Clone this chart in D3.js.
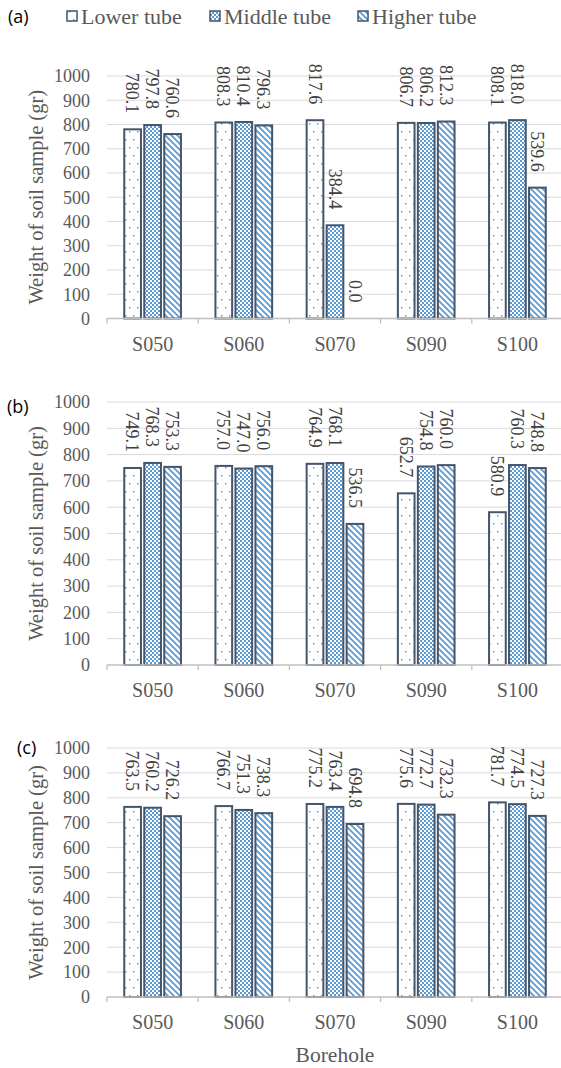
<!DOCTYPE html>
<html><head><meta charset="utf-8">
<script src="https://cdn.jsdelivr.net/npm/d3@7"></script>
<style>
html,body{margin:0;padding:0;background:#fff;}
svg{display:block;}
svg text{font-family:"Liberation Serif","Times New Roman",Tinos,"DejaVu Serif",serif;}
svg text.sans{font-family:"Open Sans","Noto Sans",sans-serif;}
</style>
</head><body>
<script>
const categories = ["S050","S060","S070","S090","S100"];
const series = ["Lower tube","Middle tube","Higher tube"];
const yTicks = [0,100,200,300,400,500,600,700,800,900,1000];
const panelLabels = ["(a)","(b)","(c)"];
const lowerA = [780.1, 808.3, 817.6, 806.7, 808.1];
const middleA = [797.8, 810.4, 384.4, 806.2, 818.0];
const higherA = [760.6, 796.3, 0.0, 812.3, 539.6];
const lowerB = [749.1, 757.0, 764.9, 652.7, 580.9];
const middleB = [768.3, 747.0, 768.1, 754.8, 760.3];
const higherB = [753.3, 756.0, 536.5, 760.0, 748.8];
const lowerC = [763.5, 766.7, 775.2, 775.6, 781.7];
const middleC = [760.2, 751.3, 763.4, 772.7, 774.5];
const higherC = [726.2, 738.3, 694.8, 732.3, 727.3];
const yTitle = "Weight of soil sample (gr)";
const xTitle = "Borehole";

const panelsData = [[lowerA,middleA,higherA],[lowerB,middleB,higherB],[lowerC,middleC,higherC]];
const layout = [
  {top:76, bottom:318.5, lab:{x:8,y:17}},
  {top:402, bottom:665, lab:{x:7,y:407}},
  {top:748, bottom:997, lab:{x:17,y:748}}
];
const W=561,H=1068;
const svg=d3.select("body").append("svg").attr("width",W).attr("height",H);
const defs=svg.append("defs");
const blue="#5B9BD5", border="#44546A", textCol="#595959";

// patterns
const p1=defs.append("pattern").attr("id","pLower").attr("patternUnits","userSpaceOnUse").attr("width",8).attr("height",16);
p1.append("rect").attr("width",8).attr("height",16).attr("fill","#fff");
p1.append("rect").attr("x",1).attr("y",3).attr("width",1.5).attr("height",1.5).attr("fill",blue);
p1.append("rect").attr("x",5).attr("y",11).attr("width",1.5).attr("height",1.5).attr("fill",blue);
const p2=defs.append("pattern").attr("id","pMiddle").attr("patternUnits","userSpaceOnUse").attr("width",4).attr("height",4);
p2.append("rect").attr("width",4).attr("height",4).attr("fill","#fff");
p2.append("rect").attr("x",0).attr("y",0).attr("width",2).attr("height",2).attr("fill",blue);
p2.append("rect").attr("x",2).attr("y",2).attr("width",2).attr("height",2).attr("fill",blue);
const p3=defs.append("pattern").attr("id","pHigher").attr("patternUnits","userSpaceOnUse").attr("width",6).attr("height",6);
p3.append("rect").attr("width",6).attr("height",6).attr("fill","#fff");
p3.append("path").attr("d","M0,0L6,6M-3,3L3,9M3,-3L9,3").attr("stroke",blue).attr("stroke-width",1.8);
const fills=["url(#pLower)","url(#pMiddle)","url(#pHigher)"];

const x0=d3.scaleBand().domain(categories).range([107,563]).paddingInner(0).paddingOuter(0);
const groupW=56.7;
const x1=d3.scaleBand().domain(series).range([0,groupW]).paddingInner(0.165).paddingOuter(0);
const offset=(x0.bandwidth()-groupW)/2;

panelsData.forEach((vals,pi)=>{
  const L=layout[pi];
  const y=d3.scaleLinear().domain([0,1000]).range([L.bottom,L.top]);
  const g=svg.append("g");
  g.selectAll("line.grid").data(yTicks.filter(t=>t>0)).join("line")
    .attr("x1",107).attr("x2",563).attr("y1",d=>y(d)).attr("y2",d=>y(d))
    .attr("stroke","#d9d9d9").attr("stroke-width",1);
  g.selectAll("text.yt").data(yTicks).join("text")
    .attr("x",90).attr("y",d=>y(d)).attr("dy","0.35em").attr("text-anchor","end")
    .attr("font-size",18).attr("fill",textCol).text(d=>d);
  g.append("text").attr("transform",`translate(36,${(L.top+L.bottom)/2}) rotate(-90)`)
    .attr("text-anchor","middle").attr("dy","0.35em").attr("font-size",20.5)
    .attr("fill",textCol).text(yTitle);
  const rows=[];
  categories.forEach((c,ci)=>series.forEach((s,si)=>rows.push({c,s,si,v:vals[si][ci]})));
  g.selectAll("rect.bar").data(rows.filter(d=>d.v>0)).join("rect")
    .attr("x",d=>x0(d.c)+offset+x1(d.s)).attr("width",x1.bandwidth())
    .attr("y",d=>y(d.v)).attr("height",d=>y(0)-y(d.v))
    .attr("fill",d=>fills[d.si]).attr("stroke",border).attr("stroke-width",2);
  g.append("line").attr("x1",107).attr("x2",563).attr("y1",y(0)).attr("y2",y(0)).attr("stroke","#bfbfbf").attr("stroke-width",1.3);
  const bounds=categories.map(c=>x0(c)).concat([x0(categories[categories.length-1])+x0.bandwidth()]);
  g.selectAll("line.tk").data(bounds).join("line")
    .attr("x1",d=>d).attr("x2",d=>d).attr("y1",y(0)).attr("y2",y(0)+5).attr("stroke","#bfbfbf").attr("stroke-width",1.3);
  g.selectAll("text.cat").data(categories).join("text")
    .attr("x",d=>x0(d)+x0.bandwidth()/2).attr("y",y(0)+25).attr("dy","0.35em").attr("text-anchor","middle")
    .attr("font-size",20).attr("fill",textCol).text(d=>d);
  g.selectAll("text.dl").data(rows).join("text")
    .attr("transform",d=>`translate(${x0(d.c)+offset+x1(d.s)+x1.bandwidth()/2},${y(d.v)-16}) rotate(90)`)
    .attr("text-anchor","end").attr("dy","0.35em")
    .attr("font-size",18).attr("fill","#404040").text(d=>d.v.toFixed(1));
  svg.append("text").attr("class","sans").attr("x",L.lab.x).attr("y",L.lab.y).attr("dy","0.35em")
    .attr("font-size",18).attr("fill","#000").text(panelLabels[pi]);
});

const legX=[67,210,358];
const lg=svg.append("g");
series.forEach((s,i)=>{
  lg.append("rect").attr("x",legX[i]).attr("y",11).attr("width",10).attr("height",10)
    .attr("fill",fills[i]).attr("stroke",border).attr("stroke-width",1.5);
  lg.append("text").attr("x",legX[i]+14).attr("y",16).attr("dy","0.35em")
    .attr("font-size",22).attr("fill",textCol).text(s);
});
svg.append("text").attr("x",335).attr("y",1054).attr("dy","0.35em").attr("text-anchor","middle")
  .attr("font-size",21.5).attr("fill",textCol).text(xTitle);
</script>
</body></html>
